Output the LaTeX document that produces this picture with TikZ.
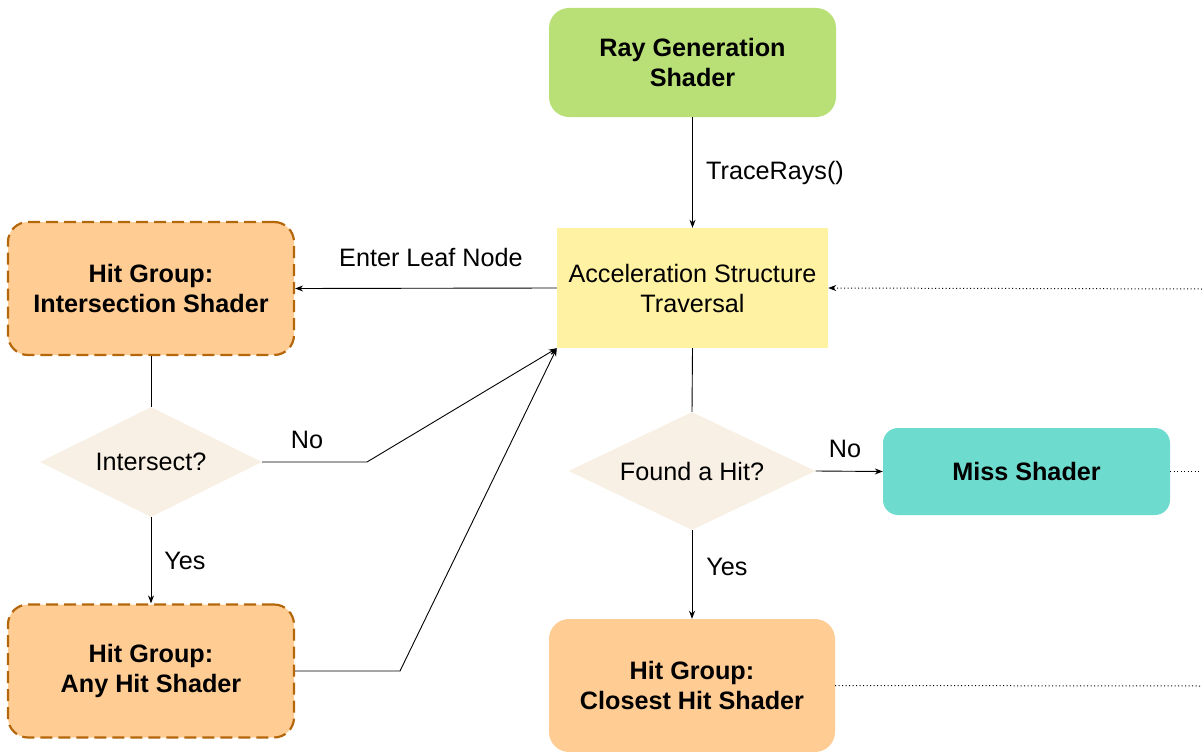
\documentclass[tikz,border=0pt]{standalone}
\usepackage{fontspec}
\setmainfont{Liberation Sans}
\usetikzlibrary{shapes.geometric,arrows.meta}
\definecolor{raygreen}{RGB}{185,224,118}
\definecolor{accyellow}{RGB}{255,242,163}
\definecolor{hitorange}{RGB}{255,204,148}
\definecolor{hitborder}{RGB}{180,102,10}
\definecolor{decfill}{RGB}{248,240,228}
\definecolor{missteal}{RGB}{110,219,207}
\tikzset{
  x=1pt, y=-1pt,
  every node/.style={font=\fontsize{25.2}{30}\selectfont, align=center, inner sep=0pt},
  boldtext/.style={font=\fontsize{25.2}{30}\selectfont\bfseries},
  shaderbox/.style={rounded corners=20pt, minimum width=#1, minimum height=110pt},
  hitbox/.style={shaderbox=286pt, fill=hitorange, boldtext, minimum height=133pt},
  optbox/.style={hitbox, draw=hitborder, line width=2.2pt, dash pattern=on 12pt off 6pt},
  decision/.style={diamond, fill=decfill, aspect=2},
  flow/.style={line width=0.9pt, -{Stealth[length=8pt,width=6pt]}},
  link/.style={line width=0.9pt},
  dotflow/.style={line width=1pt, dash pattern=on 1pt off 2.5pt},
  lbl/.style={anchor=center},
}
\begin{document}
\begin{tikzpicture}
\useasboundingbox (0,0) rectangle (1202,752);

% shaders and traversal
\node[shaderbox=287pt, fill=raygreen, boldtext, minimum height=109pt]
  (raygen) at (692.5,62.5) {Ray Generation\\Shader};
\node[fill=accyellow, minimum width=271pt, minimum height=120pt]
  (accel) at (692.5,288) {Acceleration Structure\\Traversal};
\node[optbox] (isect) at (151,288.5) {Hit Group:\\Intersection Shader};
\node[decision, minimum width=222pt, minimum height=110pt] (intersect) at (151,462) {Intersect?};
\node[optbox] (anyhit) at (151,671) {Hit Group:\\Any Hit Shader};
\node[decision, minimum width=247pt, minimum height=118pt] (found) at (692,471) {Found a Hit?};
\node[shaderbox=287pt, fill=missteal, rounded corners=15pt, minimum height=87pt,
  boldtext] (miss) at (1026.5,471.5) {Miss Shader};
\node[hitbox] (closest) at (692,685.5) {Hit Group:\\Closest Hit Shader};

% loose ends at the right margin
\coordinate (retin) at (1202,289);
\coordinate (missout) at (1202,471.5);
\coordinate (closeout) at (1202,686);
\coordinate (nobend) at (367,462);
\coordinate (anybend) at (400,671);

% connectors
\draw[flow] (raygen.south) -- (accel.north);
\node[lbl, anchor=west] (tracelbl) at (706,173) {TraceRays()};
\draw[flow] (accel.west) -- (isect.east);
\node[lbl] (leaflbl) at (431,257) {Enter Leaf Node};
\draw[link] (isect.south) -- (intersect.north);
\draw[flow] (intersect.south) -- (anyhit.north);
\node[lbl] (yes1) at (185,561) {Yes};
\draw[flow] (intersect.east) -- (nobend) -- (accel.south west);
\node[lbl] (no1) at (307,440) {No};
\draw[flow] (anyhit.east) -- (anybend) -- (accel.south west);
\draw[link] (accel.south) -- (found.north);
\draw[flow] (found.east) -- (miss.west);
\node[lbl] (no2) at (845,449) {No};
\draw[flow] (found.south) -- (closest.north);
\node[lbl] (yes2) at (727,567) {Yes};
\draw[dotflow, -{Stealth[length=8pt,width=6pt]}] (retin) -- (accel.east);
\draw[dotflow] (miss.east) -- (missout);
\draw[dotflow] (closest.east) -- (closeout);
\end{tikzpicture}
\end{document}
